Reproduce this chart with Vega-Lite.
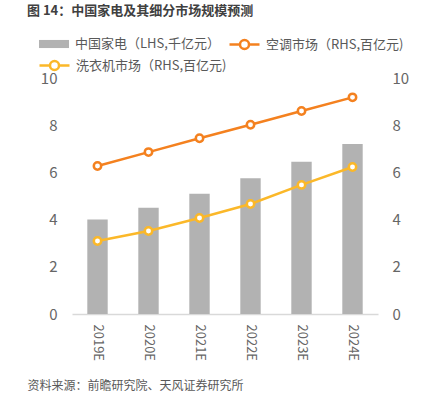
{
  "$schema": "https://vega.github.io/schema/vega-lite/v6.json",
  "width": 306,
  "height": 236,
  "autosize": {"type": "none"},
  "padding": {"left": 72, "top": 78, "right": 44, "bottom": 81},
  "background": "white",
  "config": {
    "view": {"stroke": null},
    "font": "Noto Sans CJK SC",
    "legend": {"padding": 0, "labelFont": "Noto Sans CJK SC", "labelFontSize": 13, "labelColor": "#595959", "labelOffset": 5, "orient": "none", "title": null}
  },
  "title": {
    "text": "图 14：中国家电及其细分市场规模预测",
    "anchor": "start",
    "frame": "group",
    "dx": -45,
    "offset": 4,
    "baseline": "middle",
    "fontSize": 13,
    "fontWeight": "bold",
    "color": "#404040",
    "font": "Noto Sans CJK SC"
  },
  "data": {
    "values": [
      {"year": "2019E", "series": "中国家电（LHS,千亿元）", "value": 4.0},
      {"year": "2020E", "series": "中国家电（LHS,千亿元）", "value": 4.5},
      {"year": "2021E", "series": "中国家电（LHS,千亿元）", "value": 5.1},
      {"year": "2022E", "series": "中国家电（LHS,千亿元）", "value": 5.75},
      {"year": "2023E", "series": "中国家电（LHS,千亿元）", "value": 6.45},
      {"year": "2024E", "series": "中国家电（LHS,千亿元）", "value": 7.2},
      {"year": "2019E", "series": "空调市场（RHS,百亿元)", "value": 6.27},
      {"year": "2020E", "series": "空调市场（RHS,百亿元)", "value": 6.86},
      {"year": "2021E", "series": "空调市场（RHS,百亿元)", "value": 7.45},
      {"year": "2022E", "series": "空调市场（RHS,百亿元)", "value": 8.02},
      {"year": "2023E", "series": "空调市场（RHS,百亿元)", "value": 8.6},
      {"year": "2024E", "series": "空调市场（RHS,百亿元)", "value": 9.18},
      {"year": "2019E", "series": "洗衣机市场（RHS,百亿元)", "value": 3.09},
      {"year": "2020E", "series": "洗衣机市场（RHS,百亿元)", "value": 3.52},
      {"year": "2021E", "series": "洗衣机市场（RHS,百亿元)", "value": 4.07},
      {"year": "2022E", "series": "洗衣机市场（RHS,百亿元)", "value": 4.66},
      {"year": "2023E", "series": "洗衣机市场（RHS,百亿元)", "value": 5.47},
      {"year": "2024E", "series": "洗衣机市场（RHS,百亿元)", "value": 6.23}
    ]
  },
  "encoding": {
    "x": {
      "field": "year",
      "type": "nominal",
      "sort": null,
      "scale": {"paddingInner": 0, "paddingOuter": 0},
      "axis": {
        "title": "资料来源：前瞻研究院、天风证券研究所",
        "titleX": -45,
        "titleY": 71,
        "titleAnchor": "start",
        "titleAlign": "left",
        "titleBaseline": "middle",
        "titleFontSize": 12,
        "titleFontWeight": "normal",
        "titleColor": "#595959",
        "titleFont": "Noto Sans CJK SC",
        "labelAngle": 90,
        "labelAlign": "left",
        "labelBaseline": "middle",
        "labelPadding": 10,
        "labelFontSize": 13,
        "labelColor": "#666666",
        "labelFont": "Noto Sans CJK SC",
        "ticks": false,
        "domainColor": "#d9d9d9",
        "domainWidth": 1.5,
        "grid": false
      }
    }
  },
  "layer": [
    {
      "transform": [{"filter": "datum.series === '中国家电（LHS,千亿元）'"}],
      "mark": {"type": "bar", "width": {"band": 0.4}},
      "encoding": {
        "y": {
          "field": "value",
          "type": "quantitative",
          "scale": {"domain": [0, 10]},
          "axis": {"title": null, "values": [0, 2, 4, 6, 8, 10], "domain": false, "ticks": false, "grid": false, "labelPadding": 15, "labelFontSize": 15, "labelColor": "#666666", "labelFont": "Noto Sans CJK SC"}
        },
        "fill": {
          "field": "series",
          "type": "nominal",
          "scale": {"range": ["#b2b2b2"]},
          "legend": {"legendX": -34, "legendY": -50, "symbolType": "M-1,-0.27H1V0.27H-1Z", "symbolSize": 900}
        }
      }
    },
    {
      "encoding": {
        "y": {
          "field": "value",
          "type": "quantitative",
          "scale": {"domain": [0, 10]},
          "axis": {"orient": "right", "title": null, "values": [0, 2, 4, 6, 8, 10], "domain": false, "ticks": false, "grid": false, "labelPadding": 14, "labelFontSize": 15, "labelColor": "#666666", "labelFont": "Noto Sans CJK SC"}
        }
      },
      "layer": [
        {
          "transform": [{"filter": "datum.series === '空调市场（RHS,百亿元)'"}],
          "mark": {"type": "line", "strokeWidth": 2.5, "point": {"filled": false, "fill": "white", "size": 55, "strokeWidth": 2.5}},
          "encoding": {
            "stroke": {
              "field": "series",
              "type": "nominal",
              "scale": {"range": ["#f4811f"]},
              "legend": {"legendX": 156, "legendY": -50, "symbolType": "M-1,0H-0.3M0.3,0H1M-0.3,0A0.3,0.3 0 1,1 0.3,0A0.3,0.3 0 1,1 -0.3,0", "symbolSize": 900, "symbolStrokeWidth": 2.5, "symbolFillColor": "white", "encode": {"symbols": {"update": {"fill": {"value": "white"}}}}}
            }
          }
        },
        {
          "transform": [{"filter": "datum.series === '洗衣机市场（RHS,百亿元)'"}],
          "mark": {"type": "line", "strokeWidth": 2.5, "point": {"filled": false, "fill": "white", "size": 55, "strokeWidth": 2.5}},
          "encoding": {
            "stroke": {
              "field": "series",
              "type": "nominal",
              "scale": {"range": ["#fbb829"]},
              "legend": {"legendX": -34, "legendY": -29, "symbolType": "M-1,0H-0.3M0.3,0H1M-0.3,0A0.3,0.3 0 1,1 0.3,0A0.3,0.3 0 1,1 -0.3,0", "symbolSize": 900, "symbolStrokeWidth": 2.5, "symbolFillColor": "white", "encode": {"symbols": {"update": {"fill": {"value": "white"}}}}}
            }
          }
        }
      ],
      "resolve": {"scale": {"stroke": "independent"}, "legend": {"stroke": "independent"}}
    }
  ],
  "resolve": {"scale": {"y": "independent"}}
}
